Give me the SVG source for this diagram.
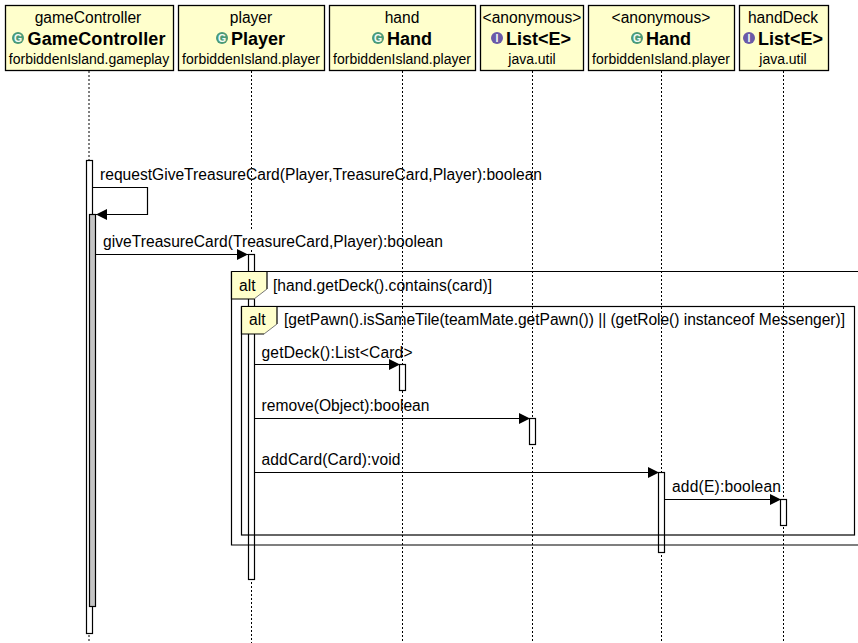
<svg xmlns="http://www.w3.org/2000/svg" width="858" height="643" viewBox="0 0 858 643">
<style>
text{font-family:"Liberation Sans",Arial,sans-serif;font-size:15.6px;fill:#000;text-anchor:middle}
.p{font-size:14px}
.b{font-weight:bold;font-size:18px;text-anchor:start}
.m{text-anchor:start}
.i{font-weight:bold;font-size:10.500px;fill:#f4fbf4}
.box{fill:#ffffcc;stroke:#000;stroke-width:1.3}
.life{stroke:#000;stroke-width:1;stroke-dasharray:2 2;fill:none}
.act{fill:#fff;stroke:#000;stroke-width:1.2}
.g{fill:#c4c4c4}
.msg{fill:none;stroke:#000;stroke-width:1.2}
.fr{fill:none;stroke:#000;stroke-width:1.2}
.tab{fill:#ffffcc;stroke:none}
.tl{fill:none;stroke:#000;stroke-width:1.2}
.td{fill:none;stroke:#777;stroke-width:1}
</style>
<defs>
<marker id="a" markerUnits="userSpaceOnUse" markerWidth="12" markerHeight="12" refX="11" refY="5.500" orient="auto"><path d="M0 0L11 5.500L0 11Z" fill="#000"/></marker>
</defs>
<g id="lifelines">
<path class="life" d="M89 71V643M251.500 71V230M251.500 250V643M402.500 71V643M532.500 71V643M661.500 71V643M783.500 71V643"/>
</g>
<g id="activations">
<rect class="act" x="86.500" y="160.500" width="6" height="473"/>
<rect class="act g" x="89.500" y="214.500" width="6" height="392"/>
<rect class="act" x="248.500" y="254.500" width="6" height="325"/>
<rect class="act" x="399.500" y="364.500" width="6" height="26"/>
<rect class="act" x="529.500" y="418.500" width="6" height="26"/>
<rect class="act" x="658.500" y="472.500" width="6" height="80"/>
<rect class="act" x="780.500" y="499.500" width="6" height="26"/>
</g>
<g id="frames">
<path class="fr" d="M858 271.500H231.500V545H858"/>
<path class="tab" d="M231.500 271.500H267V289L254 299H231.500Z"/>
<path class="tl" d="M231.500 271.500H267V289M254 299H231.500V271.500"/>
<path class="td" d="M267 289L254 299"/>
<text class="m" x="239" y="291">alt</text>
<text class="m" x="273" y="291" textLength="219">[hand.getDeck().contains(card)]</text>
<rect class="fr" x="241.500" y="306.500" width="613" height="228.500"/>
<path class="tab" d="M241.500 306.500H277V324L264 334H241.500Z"/>
<path class="tl" d="M241.500 306.500H277V324M264 334H241.500V306.500"/>
<path class="td" d="M277 324L264 334"/>
<text class="m" x="249" y="325">alt</text>
<text class="m" x="284" y="325" textLength="561">[getPawn().isSameTile(teamMate.getPawn()) || (getRole() instanceof Messenger)]</text>
</g>
<g id="connectors">
<path class="msg" marker-end="url(#a)" d="M92.500 187.500H147.500V214.500H96"/>
<path class="msg" marker-end="url(#a)" d="M95.500 254.500H248"/>
<path class="msg" marker-end="url(#a)" d="M254.500 364.500H400"/>
<path class="msg" marker-end="url(#a)" d="M254.500 418.500H530"/>
<path class="msg" marker-end="url(#a)" d="M254.500 472.500H659"/>
<path class="msg" marker-end="url(#a)" d="M664.500 499.500H781"/>
<text class="m" x="100" y="180" textLength="442">requestGiveTreasureCard(Player,TreasureCard,Player):boolean</text>
<text class="m" x="103" y="247" textLength="340">giveTreasureCard(TreasureCard,Player):boolean</text>
<text class="m" x="261.500" y="357.500" textLength="151">getDeck():List&lt;Card&gt;</text>
<text class="m" x="261.500" y="411" textLength="168">remove(Object):boolean</text>
<text class="m" x="261.500" y="465" textLength="139">addCard(Card):void</text>
<text class="m" x="672" y="492" textLength="109">add(E):boolean</text>
</g>
<g id="gameController">
<rect class="box" x="5.500" y="5.500" width="168" height="65"/>
<text x="88" y="23">gameController</text>
<circle cx="18" cy="38" r="6" fill="#4a9a78"/><text class="i" x="18" y="41.800">G</text>
<text class="b" x="27.500" y="45" textLength="138">GameController</text>
<text class="p" x="89" y="63.500">forbiddenIsland.gameplay</text>
</g>
<g id="player">
<rect class="box" x="178.500" y="5.500" width="146" height="65"/>
<text x="251" y="23">player</text>
<circle cx="222" cy="38" r="6" fill="#4a9a78"/><text class="i" x="222" y="41.800">G</text>
<text class="b" x="231" y="45">Player</text>
<text class="p" x="251" y="63.500">forbiddenIsland.player</text>
</g>
<g id="hand">
<rect class="box" x="329.500" y="5.500" width="146" height="65"/>
<text x="402" y="23">hand</text>
<circle cx="378" cy="38" r="6" fill="#4a9a78"/><text class="i" x="378" y="41.800">G</text>
<text class="b" x="387" y="45">Hand</text>
<text class="p" x="402" y="63.500">forbiddenIsland.player</text>
</g>
<g id="anonymousList">
<rect class="box" x="480.500" y="5.500" width="103" height="65"/>
<text x="532" y="23">&lt;anonymous&gt;</text>
<circle cx="497" cy="38" r="6" fill="#6a5aa8"/><text class="i" x="497" y="41.800">I</text>
<text class="b" x="506" y="45">List&lt;E&gt;</text>
<text class="p" x="532" y="63.500">java.util</text>
</g>
<g id="anonymousHand">
<rect class="box" x="588.500" y="5.500" width="146" height="65"/>
<text x="661" y="23">&lt;anonymous&gt;</text>
<circle cx="637" cy="38" r="6" fill="#4a9a78"/><text class="i" x="637" y="41.800">G</text>
<text class="b" x="646" y="45">Hand</text>
<text class="p" x="661" y="63.500">forbiddenIsland.player</text>
</g>
<g id="handDeck">
<rect class="box" x="739.500" y="5.500" width="89" height="65"/>
<text x="783" y="23">handDeck</text>
<circle cx="749" cy="38" r="6" fill="#6a5aa8"/><text class="i" x="749" y="41.800">I</text>
<text class="b" x="758" y="45">List&lt;E&gt;</text>
<text class="p" x="783" y="63.500">java.util</text>
</g>
</svg>
